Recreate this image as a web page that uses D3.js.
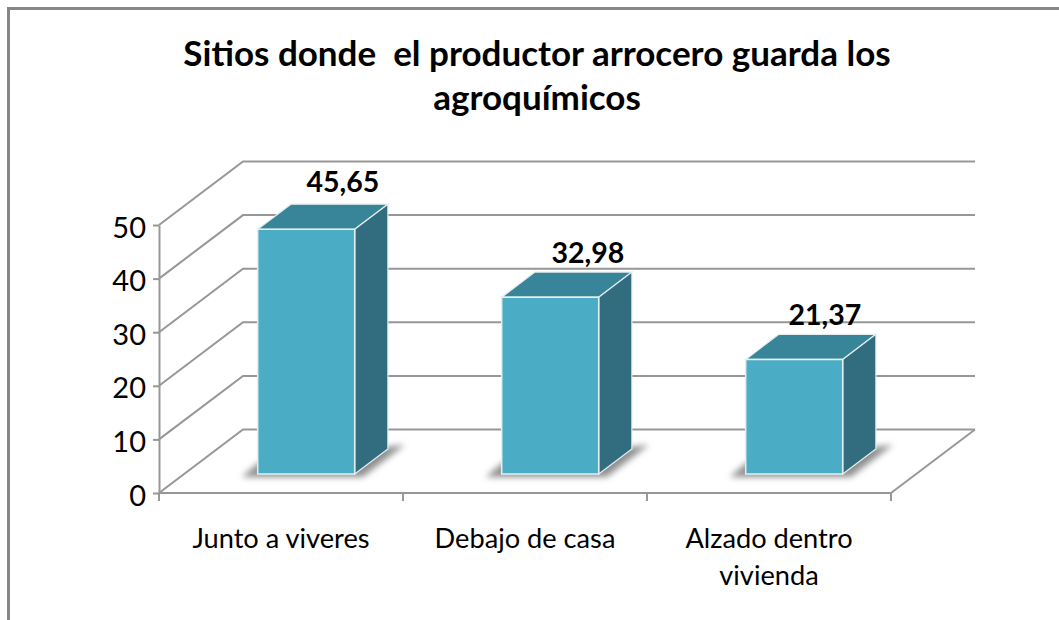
<!DOCTYPE html>
<html>
<head>
  <meta charset="UTF-8">
  <title>Sitios donde el productor arrocero guarda los agroquímicos</title>
  <style>
    html, body { margin: 0; background: #fff; }
    svg { display: block; font-family: Lato, "Open Sans", sans-serif; }
    text { white-space: pre; }
  </style>
</head>
<body>
<svg></svg>
<script src="https://d3js.org/d3.v7.min.js"></script>
<script>
    const categories = [["Junto a viveres"], ["Debajo de casa"], ["Alzado dentro", "vivienda"]];
    const values = [45.65, 32.98, 21.37];
    const valueLabels = ["45,65", "32,98", "21,37"];
    const yTicks = [0, 10, 20, 30, 40, 50];
    const titleLines = ["Sitios donde  el productor arrocero guarda los", "agroquímicos"];

    let width = 1059, height = 620;
    let svg = d3.select("svg").attr("width", width).attr("height", height);

    let grey = "#979797";

    // filter for the soft bar shadow
    svg.append("defs").append("filter").attr("id", "blur")
        .attr("x", "-20%").attr("y", "-30%").attr("width", "140%").attr("height", "160%")
        .append("feGaussianBlur").attr("stdDeviation", 3);

    // outer frame, open on the right and bottom
    svg.append("path")
        .attr("d", d3.line()([[8.5, 620], [8.5, 8.5], [1059, 8.5]]))
        .attr("fill", "none").attr("stroke", "#868686").attr("stroke-width", 3);

    // Scales: x and y on the front plane, depth is the push into the 3d box
    let x = d3.scaleBand().domain(d3.range(categories.length)).range([159, 891]).paddingInner(0).paddingOuter(0);
    let y = d3.scaleLinear().domain([0, 50]).range([493, 225]);
    let depthX = d3.scaleLinear().domain([0, 1]).range([0, 84]);
    let depthY = d3.scaleLinear().domain([0, 1]).range([0, -63.5]);
    let barWidth = 97;
    let barNear = 0.3, barFar = 0.695;

    let line = d3.line();

    // Back wall and side wall gridlines
    let grid = svg.append("g").attr("fill", "none").attr("stroke", grey).attr("stroke-width", 2);
    yTicks.forEach(t => {
        grid.append("path").attr("d", line([
            [x.range()[0], y(t)],
            [x.range()[0] + depthX(1), y(t) + depthY(1)],
            [x.range()[1] + depthX(1), y(t) + depthY(1)]
        ]));
    });
    // floor right edge
    grid.append("path").attr("d", line([
        [x.range()[1], y(0)],
        [x.range()[1] + depthX(1), y(0) + depthY(1)]
    ]));

    // Axes
    let axisY = d3.axisLeft(y).tickValues(yTicks).tickSize(6).tickPadding(7).tickSizeOuter(0);
    let gy = svg.append("g").attr("transform", "translate(" + x.range()[0] + ",0)").call(axisY);
    gy.selectAll("path,line").attr("stroke", grey).attr("stroke-width", 2);
    gy.selectAll("text").attr("font-size", 29).attr("fill", "#000").attr("font-family", "Lato").attr("dy", "0.42em");

    let xTickPos = x.domain().map(d => x(d)).concat(x.range()[1]);
    let gx = svg.append("g").attr("fill", "none").attr("stroke", grey).attr("stroke-width", 2);
    gx.append("path").attr("d", line([[x.range()[0], y(0)], [x.range()[1], y(0)]]));
    xTickPos.forEach(p => {
        gx.append("path").attr("d", line([[p, y(0)], [p, y(0) + 8]]));
    });

    // Bars
    let bars = svg.append("g").selectAll("g").data(values).enter().append("g");

    function corner(d, i, near, top, side) {
        // side 0 = left edge of the bar, 1 = right edge
        let x0 = x(i) + x.bandwidth() / 2 - barWidth / 2 + side * barWidth;
        return [x0 + depthX(near), (top ? y(d) : y(0)) + depthY(near)];
    }

    // shadow on the floor, behind the bar
    bars.append("path")
        .attr("d", (d, i) => {
            let a = corner(d, i, barNear, false, 0);
            let b = corner(d, i, barNear, false, 1);
            let c = corner(d, i, barFar, false, 1);
            return line([[a[0] - 16, a[1] + 3], [a[0] + 2, a[1] - 12], [c[0] + 17, c[1] - 4], [b[0] + 8, b[1] + 3]]) + "Z";
        })
        .attr("fill", "#8f8f8f")
        .attr("filter", "url(#blur)");

    // top face
    bars.append("path")
        .attr("d", (d, i) => line([
            corner(d, i, barNear, true, 0),
            corner(d, i, barFar, true, 0),
            corner(d, i, barFar, true, 1),
            corner(d, i, barNear, true, 1)
        ]) + "Z")
        .attr("fill", "#388499").attr("stroke", "#e4eef1").attr("stroke-width", 1.2);

    // right face
    bars.append("path")
        .attr("d", (d, i) => line([
            corner(d, i, barNear, true, 1),
            corner(d, i, barFar, true, 1),
            corner(d, i, barFar, false, 1),
            corner(d, i, barNear, false, 1)
        ]) + "Z")
        .attr("fill", "#316d7f").attr("stroke", "#e4eef1").attr("stroke-width", 1.2);

    // front face
    bars.append("path")
        .attr("d", (d, i) => line([
            corner(d, i, barNear, true, 0),
            corner(d, i, barNear, true, 1),
            corner(d, i, barNear, false, 1),
            corner(d, i, barNear, false, 0)
        ]) + "Z")
        .attr("fill", "#4bacc6").attr("stroke", "#e4eef1").attr("stroke-width", 1.5);

    // Value labels, hand placed a little off the bar like the original
    let nudgeX = [2, 3, -4], nudgeY = [1, 4, 4];
    bars.append("text")
        .attr("x", (d, i) => corner(d, i, barFar, true, 0)[0] + 50 + nudgeX[i])
        .attr("y", (d, i) => corner(d, i, barFar, true, 0)[1] - 13 + nudgeY[i])
        .attr("text-anchor", "middle")
        .attr("font-size", 28.5).attr("font-weight", 700).attr("fill", "#000")
        .text((d, i) => valueLabels[i]);

    // Category labels
    categories.forEach((lines, i) => {
        lines.forEach((s, j) => {
            svg.append("text")
                .attr("x", x(i) + x.bandwidth() / 2)
                .attr("y", 548 + j * 37)
                .attr("text-anchor", "middle")
                .attr("font-size", 27.2).attr("fill", "#000")
                .text(s);
        });
    });

    // Title
    titleLines.forEach((s, j) => {
        svg.append("text")
            .attr("x", 537)
            .attr("y", 66 + j * 44)
            .attr("text-anchor", "middle")
            .attr("font-size", 35).attr("font-weight", 700).attr("fill", "#000")
            .text(s);
    });
</script>
</body>
</html>
